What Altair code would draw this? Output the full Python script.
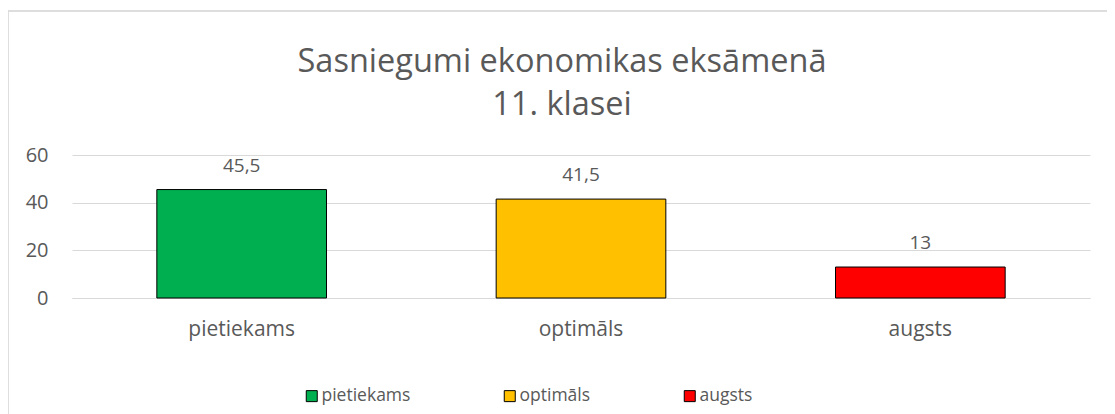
import altair as alt
import pandas as pd

categories = ["pietiekams", "optimāls", "augsts"]
values = [45.5, 41.5, 13]
labels = ["45,5", "41,5", "13"]
colors = ["#00B050", "#FFC000", "#FF0000"]

df = pd.DataFrame({"cat": categories, "val": values, "lab": labels})

FONT = "Open Sans"
GRAY = "#595959"

x = alt.X("cat:N", sort=categories,
          scale=alt.Scale(paddingInner=0.5, paddingOuter=0.25),
          axis=alt.Axis(title=None, labelAngle=0, labelFontSize=21, labelColor=GRAY,
                        labelFont=FONT, ticks=False, domainColor="#D9D9D9", labelPadding=20))

bars = alt.Chart(df).mark_bar(stroke="black", strokeWidth=1).encode(
    x=x,
    y=alt.Y("val:Q", scale=alt.Scale(domain=[0, 60]),
            axis=alt.Axis(title=None, values=[0, 20, 40, 60], labelFontSize=20, labelColor=GRAY,
                          labelFont=FONT, ticks=False, domain=False, gridColor="#D9D9D9",
                          labelPadding=24)),
    color=alt.Color("cat:N", sort=categories,
                    scale=alt.Scale(domain=categories, range=colors),
                    legend=alt.Legend(title=None, orient="none", legendX=231, legendY=232,
                                      direction="horizontal", columns=3, columnPadding=90,
                                      symbolType="square", symbolSize=121, symbolStrokeColor="black",
                                      symbolStrokeWidth=1, labelFontSize=17.5, labelColor=GRAY,
                                      labelFont=FONT, labelOffset=1)),
)

text = alt.Chart(df).mark_text(dy=-14, fontSize=19, color=GRAY, font=FONT, baseline="bottom").encode(
    x=alt.X("cat:N", sort=categories),
    y="val:Q",
    text="lab:N",
)

border = alt.Chart(df).mark_rect(fill=None, stroke="#D9D9D9", strokeWidth=1, clip=False).encode(
    x=alt.value(-64), x2=alt.value(1080), y=alt.value(-144), y2=alt.value(300)
)

chart = alt.layer(border, bars, text).properties(
    width=1018, height=143,
    autosize=alt.AutoSizeParams(type="none"),
    padding={"left": 64, "top": 147, "right": 17, "bottom": 120},
    title=alt.Title(["Sasniegumi ekonomikas eksāmenā", "11. klasei"], fontSize=32.5, font=FONT,
                    fontWeight="normal", color=GRAY, anchor="middle", offset=22, lineHeight=43,
                    dy=133, dx=-19),
).configure_view(stroke=None)

chart.save("out.html", embed_options={"renderer": "svg", "actions": False})
